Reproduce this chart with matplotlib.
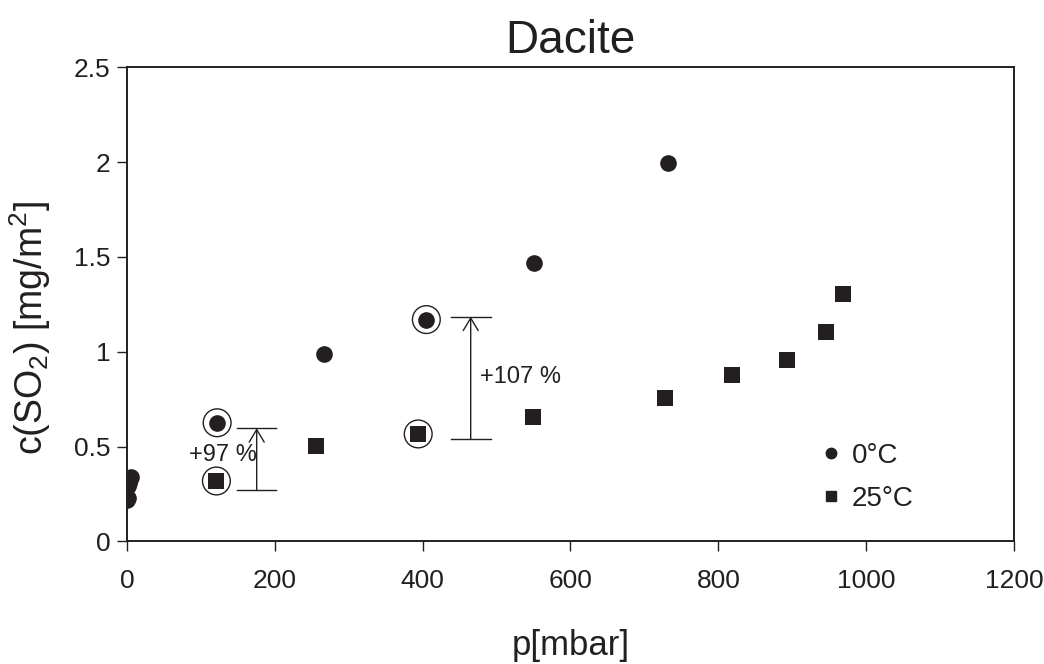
import matplotlib
matplotlib.use("Agg")
import matplotlib.pyplot as plt
from matplotlib.lines import Line2D

plt.rcParams['font.family'] = ['Liberation Sans', 'DejaVu Sans']
plt.rcParams['mathtext.default'] = 'regular'

INK = '#231f20'

# Adsorbed SO2 on dacite versus pressure
p_0C = [0.5, 1, 2, 3, 4, 5, 122, 267, 405, 550, 732]
c_0C = [0.22, 0.23, 0.29, 0.31, 0.33, 0.34, 0.626, 0.99, 1.17, 1.466, 1.994]

p_25C = [121, 256, 394, 549, 728, 819, 893, 946, 968]
c_25C = [0.319, 0.503, 0.567, 0.655, 0.757, 0.878, 0.957, 1.106, 1.303]

# Highlighted pairs (same pressure step) and their relative increase
ring_p = [122, 121, 405, 394]
ring_c = [0.626, 0.319, 1.17, 0.567]
brackets = [
    # (x of arrow, x from, x to, low, high, label, label x, label y, ha)
    (175.5, 149, 202, 0.271, 0.597, '+97 %', 176, 0.456, 'right'),
    (465, 439, 493, 0.539, 1.185, '+107 %', 478, 0.866, 'left'),
]

x_ticks = [0, 200, 400, 600, 800, 1000, 1200]
y_ticks = [0, 0.5, 1, 1.5, 2, 2.5]
y_labels = ['0', '0.5', '1', '1.5', '2', '2.5']

fig = plt.figure(figsize=(10.44, 6.64), dpi=100)
ax = fig.add_axes([0.1216, 0.1845, 0.8497, 0.7141])

ax.scatter(p_0C, c_0C, s=144, marker='o', color=INK, linewidths=0, zorder=3)
ax.scatter(p_25C, c_25C, s=140, marker='s', color=INK, linewidths=0, zorder=3)
ax.scatter(ring_p, ring_c, s=400, marker='o', facecolors='none',
           edgecolors=INK, linewidths=1.0, zorder=2)

for xa, x0, x1, lo, hi, txt, tx, ty, ha in brackets:
    ax.plot([x0, x1], [lo, lo], color=INK, lw=1.0)
    ax.plot([x0, x1], [hi, hi], color=INK, lw=1.0)
    ax.annotate('', xy=(xa, hi), xytext=(xa, lo),
                arrowprops=dict(arrowstyle='->,head_length=0.5,head_width=0.3',
                                color=INK, lw=1.0, shrinkA=0, shrinkB=0,
                                mutation_scale=18))
    ax.text(tx, ty, txt, fontsize=17, color=INK, ha=ha, va='center')

ax.set_xlim(0, 1200)
ax.set_ylim(0, 2.5)
ax.set_xticks(x_ticks)
ax.set_yticks(y_ticks)
ax.set_yticklabels(y_labels)
ax.tick_params(direction='out', length=7, width=1.0, colors=INK,
               labelsize=19, pad=5)
ax.tick_params(axis='x', pad=13)
for s in ax.spines.values():
    s.set_linewidth(1.4)
    s.set_color(INK)

ax.set_title('Dacite', fontsize=33, color=INK, pad=10)
ax.set_xlabel('p[mbar]', fontsize=25, color=INK, labelpad=26)
ax.set_ylabel('c(SO$_2$) [mg/m$^2$]', fontsize=27, color=INK)
ax.yaxis.set_label_coords(-0.083, 0.45)

handles = [
    Line2D([], [], ls='none', marker='o', ms=7.5, color=INK),
    Line2D([], [], ls='none', marker='s', ms=7, color=INK),
]
ax.legend(handles, ['0°C', '25°C'], loc='upper left',
          bbox_to_anchor=(0.75, 0.26), frameon=False, fontsize=20,
          handletextpad=0.25, labelspacing=0.6, handlelength=1.0,
          labelcolor=INK)

fig.savefig('out.png', dpi=100)
